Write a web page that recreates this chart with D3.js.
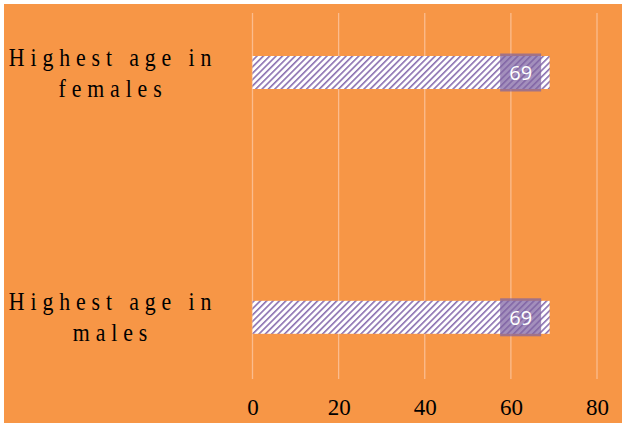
<!DOCTYPE html>
<html>
<head>
<meta charset="utf-8">
<script src="https://cdn.jsdelivr.net/npm/d3@7"></script>
<style>
  html, body { margin: 0; padding: 0; background: #ffffff; }
  svg { display: block; }
</style>
</head>
<body>
<svg id="chart" width="622" height="425"></svg>
<script>
// Data
const categories = ["Highest age in females", "Highest age in males"];
const labelLines = [["Highest age in", "females"], ["Highest age in", "males"]];
const values = [69, 69];
const tickValues = [0, 20, 40, 60, 80];

const W = 622, H = 425;
const svg = d3.select("#chart");

// Orange chart area
svg.append("rect")
  .attr("x", 4).attr("y", 4)
  .attr("width", W - 4).attr("height", 419)
  .attr("fill", "#F79646");

// Diagonal hatch pattern for the bars
const defs = svg.append("defs");
const pat = defs.append("pattern")
  .attr("id", "hatch")
  .attr("patternUnits", "userSpaceOnUse")
  .attr("width", 4.5).attr("height", 4.5)
  .attr("patternTransform", "rotate(45)");
pat.append("rect").attr("width", 4.5).attr("height", 4.5).attr("fill", "#ffffff");
pat.append("rect").attr("x", 0).attr("y", 0).attr("width", 1.6).attr("height", 4.5)
  .attr("fill", "#8A70B0");

// Scales
const x = d3.scaleLinear().domain([0, 80]).range([252.5, 597]);
const y = d3.scalePoint().domain(categories).range([72.5, 317.3]);
const barH = 33;
const gridTop = 13, gridBottom = 379;

// Vertical gridlines
svg.append("g").selectAll("line")
  .data(tickValues)
  .join("line")
  .attr("x1", d => x(d)).attr("x2", d => x(d))
  .attr("y1", gridTop).attr("y2", gridBottom)
  .attr("stroke", "#FBBC8E")
  .attr("stroke-width", 1.3);

// Bottom axis labels
const axis = d3.axisBottom(x).tickValues(tickValues).tickSize(0).tickPadding(0);
const axG = svg.append("g")
  .attr("transform", `translate(0, ${gridBottom})`)
  .call(axis);
axG.select(".domain").remove();
axG.selectAll("text")
  .attr("y", 36).attr("dy", 0)
  .attr("font-family", "Liberation Serif, Times New Roman, serif")
  .attr("font-size", 23)
  .attr("fill", "#000");

// Bars
svg.append("g").selectAll("rect")
  .data(categories)
  .join("rect")
  .attr("x", x(0))
  .attr("y", d => y(d) - barH / 2)
  .attr("width", (d, i) => x(values[i]) - x(0))
  .attr("height", barH)
  .attr("fill", "url(#hatch)");

// Value labels inside bar ends
const lab = svg.append("g").selectAll("g")
  .data(categories)
  .join("g")
  .attr("transform", (d, i) => `translate(${x(values[i]) - 29}, ${y(d)})`);
lab.append("rect")
  .attr("x", -20.5).attr("y", -19)
  .attr("width", 41).attr("height", 38)
  .attr("fill", "#8064A2").attr("fill-opacity", 0.72);
lab.append("text")
  .attr("text-anchor", "middle")
  .attr("y", 7.5)
  .attr("font-family", "Open Sans, Liberation Sans, sans-serif")
  .attr("font-size", 20)
  .attr("fill", "#ffffff")
  .text((d, i) => values[i]);

// Category labels (two lines, wide letter spacing)
const cat = svg.append("g").selectAll("g")
  .data(categories)
  .join("g")
  .attr("transform", d => `translate(113, ${y(d)})`);
cat.each(function (d, i) {
  const g = d3.select(this);
  labelLines[i].forEach((line, j) => {
    g.append("text")
      .attr("transform", `translate(0, ${j === 0 ? -7 : 24}) scale(0.84, 1)`)
      .attr("text-anchor", "middle")
      .attr("font-family", "Liberation Serif, Times New Roman, serif")
      .attr("font-size", 26)
      .attr("letter-spacing", 7)
      .attr("fill", "#000")
      .text(line);
  });
});
</script>
</body>
</html>
